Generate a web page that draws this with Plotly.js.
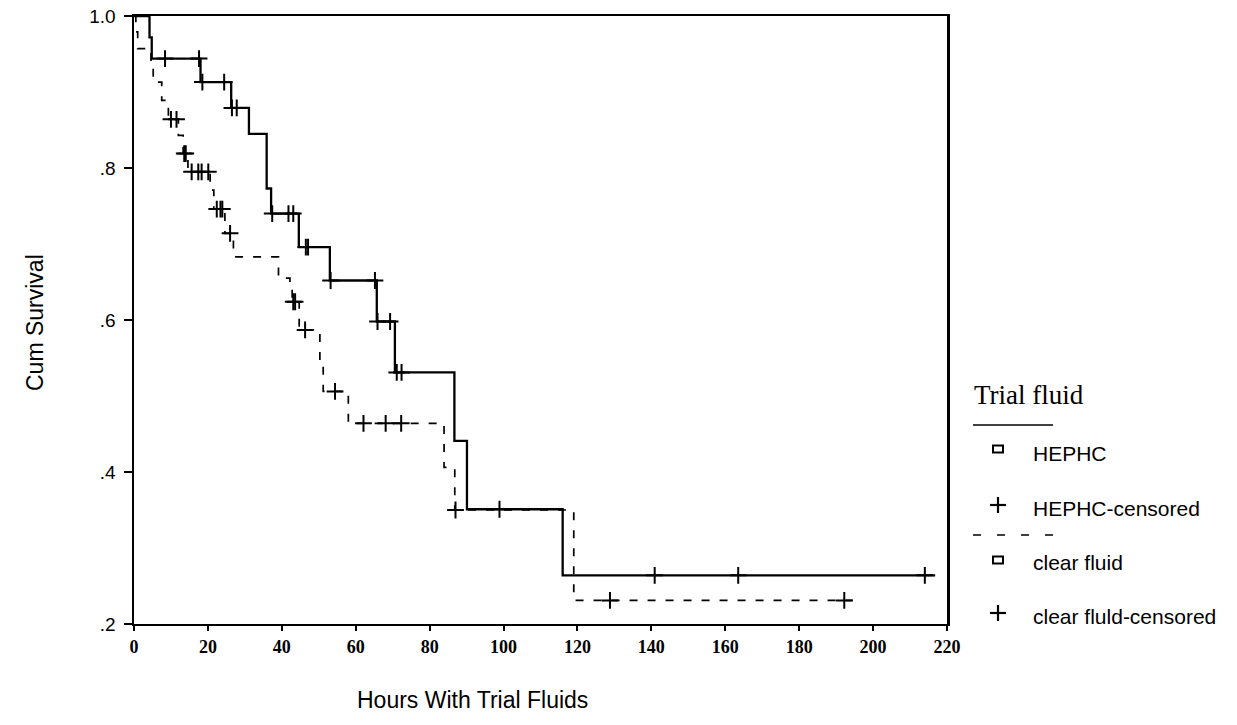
<!DOCTYPE html>
<html>
<head>
<meta charset="utf-8">
<script src="https://cdn.plot.ly/plotly-3.0.1.min.js"></script>
<style>html,body{margin:0;padding:0;background:#fff;}#chart{width:1237px;height:725px;}</style>
</head>
<body>
<div id="chart"></div>
<script>
// HEPHC (solid) Kaplan-Meier steps
var hephcTime = [0, 4.2, 4.8, 18.0, 26.3, 31.1, 35.9, 37.1, 44.6, 53.0, 65.7, 70.6, 86.7, 90.1, 116.0, 216.8];
var hephcSurv = [1.0, 0.972, 0.944, 0.913, 0.879, 0.845, 0.773, 0.740, 0.696, 0.652, 0.598, 0.531, 0.441, 0.351, 0.264, 0.264];
// HEPHC censored observations
var hephcCensTime = [8.4, 17.6, 18.5, 24.4, 26.5, 27.8, 37.4, 41.8, 43.1, 46.5, 47.1, 53.2, 65.2, 65.9, 69.3, 71.1, 72.4, 98.9, 140.9, 163.5, 214.0];
var hephcCensSurv = [0.944, 0.944, 0.913, 0.913, 0.879, 0.879, 0.740, 0.740, 0.740, 0.696, 0.696, 0.652, 0.652, 0.598, 0.598, 0.531, 0.531, 0.351, 0.264, 0.264, 0.264];
// clear fluid (dashed) Kaplan-Meier steps
var clearTime = [0, 0.5, 1.0, 4.6, 5.2, 7.5, 9.3, 12.0, 13.3, 14.6, 20.6, 21.6, 24.6, 26.9, 39.1, 42.2, 42.8, 44.7, 50.3, 51.2, 58.0, 83.9, 86.8, 119.0, 194.5];
var clearSurv = [1.0, 0.979, 0.957, 0.935, 0.913, 0.889, 0.864, 0.843, 0.819, 0.795, 0.771, 0.746, 0.714, 0.683, 0.655, 0.648, 0.624, 0.587, 0.545, 0.506, 0.464, 0.406, 0.350, 0.231, 0.231];
// clear fluid censored observations
var clearCensTime = [10.0, 11.5, 13.6, 14.0, 15.6, 17.4, 18.3, 20.1, 22.4, 23.4, 23.9, 26.0, 43.1, 43.6, 46.3, 54.4, 62.1, 68.1, 72.3, 87.0, 128.8, 192.2];
var clearCensSurv = [0.864, 0.864, 0.819, 0.819, 0.795, 0.795, 0.795, 0.795, 0.746, 0.746, 0.746, 0.714, 0.624, 0.624, 0.587, 0.506, 0.464, 0.464, 0.464, 0.350, 0.231, 0.231];

var xTickVals = [0, 20, 40, 60, 80, 100, 120, 140, 160, 180, 200, 220];
var yTickVals = [1.0, 0.8, 0.6, 0.4, 0.2];
var yTickText = ["1.0", ".8", ".6", ".4", ".2"];

var legendTitle = "Trial fluid";
var legendLabels = ["HEPHC", "HEPHC-censored", "clear fluid", "clear fluld-censored"];
var xTitle = "Hours With Trial Fluids";
var yTitle = "Cum Survival";

// layout geometry (pixels)
var W = 1237, H = 725, L = 134, R = 290, T = 16, B = 101;
var pw = W - L - R, ph = H - T - B;
function X(px) { return (px - L) / pw; }
function Y(py) { return (H - B - py) / ph; }

var traces = [
  {x: hephcTime, y: hephcSurv, mode: 'lines', line: {shape: 'hv', color: '#000', width: 2.3}, hoverinfo: 'skip'},
  {x: clearTime, y: clearSurv, mode: 'lines', line: {shape: 'hv', color: '#000', width: 1.7, dash: '8px,10px'}, hoverinfo: 'skip'},
  {x: hephcCensTime, y: hephcCensSurv, mode: 'markers', marker: {symbol: 'cross-thin', size: 12, color: '#000', line: {color: '#000', width: 2}}, hoverinfo: 'skip'},
  {x: clearCensTime, y: clearCensSurv, mode: 'markers', marker: {symbol: 'cross-thin', size: 12, color: '#000', line: {color: '#000', width: 2}}, hoverinfo: 'skip'}
];

var legFont = {family: 'Liberation Sans, Arial, sans-serif', size: 21, color: '#000'};
var rowsY = [453, 508, 562, 616];
var annotations = [
  {text: legendTitle, x: X(972), y: Y(395), xref: 'paper', yref: 'paper', xanchor: 'left', yanchor: 'middle', showarrow: false,
   font: {family: 'Liberation Serif, Times New Roman, serif', size: 27, color: '#000'}},
  {text: xTitle, x: X(472), y: Y(700), xref: 'paper', yref: 'paper', xanchor: 'center', yanchor: 'middle', showarrow: false,
   font: {family: 'Liberation Sans, Arial, sans-serif', size: 23, color: '#000'}},
  {text: yTitle, x: X(35), y: Y(323), xref: 'paper', yref: 'paper', xanchor: 'center', yanchor: 'middle', showarrow: false, textangle: -90,
   font: {family: 'Liberation Sans, Arial, sans-serif', size: 23, color: '#000'}}
];
legendLabels.forEach(function (lab, i) {
  annotations.push({text: lab, x: X(1031), y: Y(rowsY[i]), xref: 'paper', yref: 'paper', xanchor: 'left', yanchor: 'middle', showarrow: false, font: legFont});
});

function seg(x0, y0, x1, y1, w, dash) {
  return {type: 'line', xref: 'paper', yref: 'paper', x0: X(x0), y0: Y(y0), x1: X(x1), y1: Y(y1), line: {color: '#000', width: w, dash: dash || 'solid'}};
}
function box(cx, cy) {
  return {type: 'rect', xref: 'paper', yref: 'paper', x0: X(cx - 5), x1: X(cx + 5), y0: Y(cy - 3.5), y1: Y(cy + 3.5), line: {color: '#000', width: 2}, fillcolor: 'rgba(0,0,0,0)'};
}
var shapes = [
  seg(973, 425, 1053, 425, 1.5),
  seg(973, 535, 1053, 535, 1.5, '8px,16px'),
  box(998, 449),
  seg(990, 505, 1006, 505, 2.2), seg(998, 497, 998, 513, 2.2),
  box(998, 560),
  seg(990, 613, 1006, 613, 2.2), seg(998, 605, 998, 621, 2.2)
];

var layout = {
  width: W, height: H,
  margin: {l: L, r: R, t: T, b: B, pad: 0},
  paper_bgcolor: '#fff', plot_bgcolor: '#fff',
  showlegend: false,
  xaxis: {
    range: [0, 220], tickvals: xTickVals, ticks: 'outside', ticklen: 5, tickwidth: 2, tickcolor: '#000',
    showline: true, linecolor: '#000', linewidth: 2, mirror: true, showgrid: false, zeroline: false,
    tickfont: {family: 'Liberation Serif, Times New Roman, serif', size: 18, color: '#000', weight: 'bold'}
  },
  yaxis: {
    range: [0.2, 1.0], tickvals: yTickVals, ticktext: yTickText, ticks: 'outside', ticklen: 8, tickwidth: 1.5, tickcolor: '#000',
    showline: true, linecolor: '#000', linewidth: 2.5, mirror: true, showgrid: false, zeroline: false, ticklabelstandoff: 4,
    tickfont: {family: 'Liberation Sans, Arial, sans-serif', size: 19, color: '#000'}
  },
  annotations: annotations,
  shapes: shapes
};

Plotly.newPlot('chart', traces, layout, {staticPlot: true, displayModeBar: false});
</script>
</body>
</html>
